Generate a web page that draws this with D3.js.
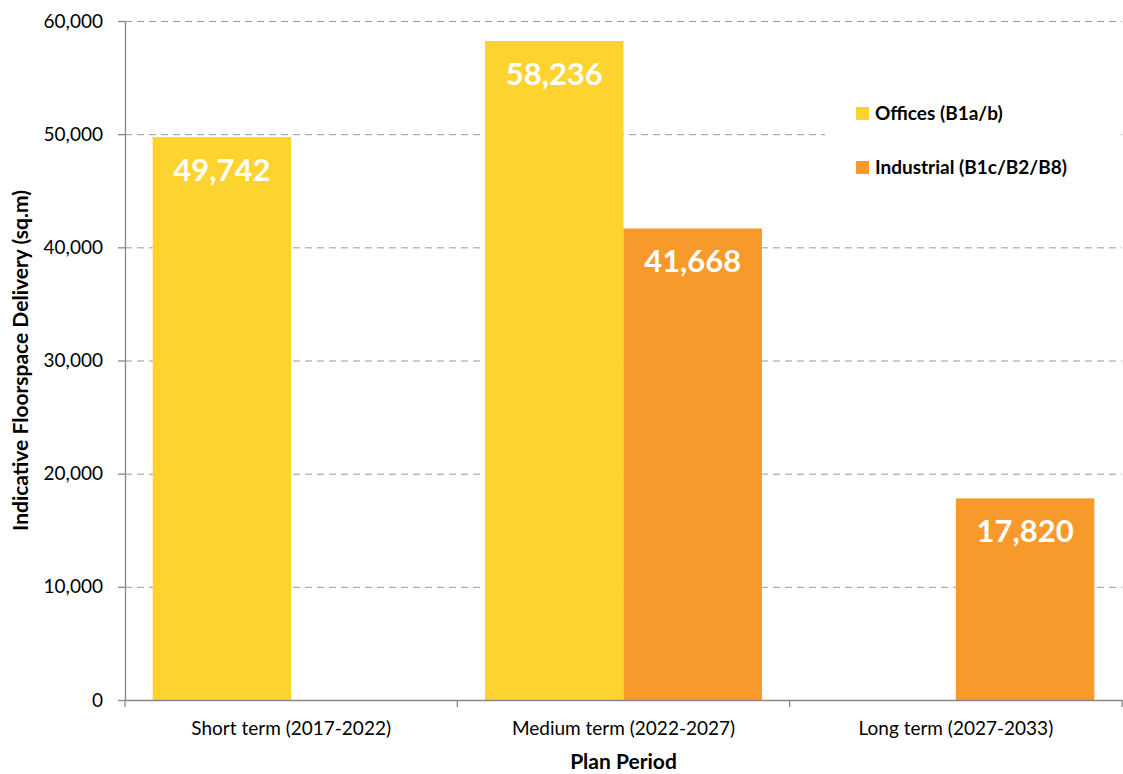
<!DOCTYPE html>
<html>
<head>
<meta charset="utf-8">
<script src="https://d3js.org/d3.v7.min.js"></script>
<style>
  body { margin: 0; background: #fff; }
  svg { font-family: Lato, "Open Sans", sans-serif; }
</style>
</head>
<body>
<div id="vis"></div>
<script>
const FRAME_WIDTH = 1123;
const FRAME_HEIGHT = 774;
const MARGINS = {left: 125, right: 1, top: 21, bottom: 74};

const VIS_WIDTH = FRAME_WIDTH - MARGINS.left - MARGINS.right;
const VIS_HEIGHT = FRAME_HEIGHT - MARGINS.top - MARGINS.bottom;

// data
const periods = ["Short term (2017-2022)", "Medium term (2022-2027)", "Long term (2027-2033)"];
const seriesNames = ["Offices (B1a/b)", "Industrial (B1c/B2/B8)"];
const offices = [49742, 58236, null];
const industrial = [null, 41668, 17820];
const yTicks = [0, 10000, 20000, 30000, 40000, 50000, 60000];
const colors = ["#FDD42F", "#F89A2B"];

const FRAME = d3.select("#vis")
  .append("svg")
    .attr("width", FRAME_WIDTH)
    .attr("height", FRAME_HEIGHT);

const X_SCALE = d3.scaleBand()
  .domain(periods)
  .range([0, VIS_WIDTH]);

const X_INNER = d3.scaleBand()
  .domain(seriesNames)
  .range([0, X_SCALE.bandwidth()])
  .paddingOuter(0.2)
  .paddingInner(0);

const Y_SCALE = d3.scaleLinear()
  .domain([0, 60000])
  .range([VIS_HEIGHT, 0]);

const g = FRAME.append("g")
  .attr("transform", "translate(" + MARGINS.left + "," + MARGINS.top + ")");

// gridlines
g.selectAll(".grid")
  .data(yTicks.filter(d => d > 0))
  .enter()
  .append("line")
    .attr("x1", 0)
    .attr("x2", VIS_WIDTH)
    .attr("y1", d => Y_SCALE(d) + 0.5)
    .attr("y2", d => Y_SCALE(d) + 0.5)
    .attr("stroke", "#999")
    .attr("stroke-width", 1)
    .attr("stroke-dasharray", "7,5");

// bars
const rows = [];
periods.forEach((p, i) => {
  [offices, industrial].forEach((s, j) => {
    if (s[i] != null) rows.push({period: p, series: seriesNames[j], value: s[i], color: colors[j]});
  });
});

g.selectAll(".bar")
  .data(rows)
  .enter()
  .append("rect")
    .attr("x", d => X_SCALE(d.period) + X_INNER(d.series))
    .attr("y", d => Y_SCALE(d.value))
    .attr("width", X_INNER.bandwidth())
    .attr("height", d => VIS_HEIGHT - Y_SCALE(d.value))
    .attr("fill", d => d.color);

// data labels
g.selectAll(".lbl")
  .data(rows)
  .enter()
  .append("text")
    .attr("x", d => X_SCALE(d.period) + X_INNER(d.series) + X_INNER.bandwidth() / 2)
    .attr("y", d => Y_SCALE(d.value) + 44)
    .attr("text-anchor", "middle")
    .attr("fill", "#fff")
    .style("font-size", "31px")
    .style("font-weight", "bold")
    .text(d => d3.format(",")(d.value));

// y axis
const yAxis = g.append("g")
  .call(d3.axisLeft(Y_SCALE).tickValues(yTicks).tickFormat(d3.format(",")).tickSize(7).tickSizeOuter(0))
  .attr("font-family", "Lato, 'Open Sans', sans-serif")
  .attr("font-size", "19px");
yAxis.select(".domain").attr("stroke", "#888").attr("stroke-width", 1.3);
yAxis.selectAll(".tick line").attr("stroke", "#888").attr("stroke-width", 1.3);
yAxis.selectAll(".tick text").attr("fill", "#000").attr("x", -22);

// x axis
const xAxis = g.append("g")
  .attr("transform", "translate(0," + VIS_HEIGHT + ")")
  .call(d3.axisBottom(X_SCALE).tickSize(0).tickSizeOuter(0))
  .attr("font-family", "Lato, 'Open Sans', sans-serif")
  .attr("font-size", "19px");
xAxis.select(".domain").attr("stroke", "#888").attr("stroke-width", 1.3);
xAxis.selectAll(".tick text").attr("fill", "#000").attr("y", 22).attr("dy", "0.71em");

// category boundary ticks
g.selectAll(".xtick")
  .data(periods.concat(["end"]))
  .enter()
  .append("line")
    .attr("x1", (d, i) => i < periods.length ? X_SCALE(d) : VIS_WIDTH)
    .attr("x2", (d, i) => i < periods.length ? X_SCALE(d) : VIS_WIDTH)
    .attr("y1", VIS_HEIGHT)
    .attr("y2", VIS_HEIGHT + 7)
    .attr("stroke", "#888")
    .attr("stroke-width", 1.3);

// legend
const legend = FRAME.append("g").attr("transform", "translate(825,95)");
legend.append("rect")
  .attr("width", 292)
  .attr("height", 100)
  .attr("fill", "#fff");

seriesNames.forEach((name, i) => {
  legend.append("rect")
    .attr("x", 31)
    .attr("y", 12 + i * 54)
    .attr("width", 13)
    .attr("height", 13)
    .attr("fill", colors[i]);
  legend.append("text")
    .attr("x", 50)
    .attr("y", 25 + i * 54)
    .style("font-size", "19px")
    .style("font-weight", "bold")
    .attr("fill", "#000")
    .text(name);
});

// axis titles
FRAME.append("text")
  .attr("transform", "translate(28," + (MARGINS.top + VIS_HEIGHT / 2) + ") rotate(-90)")
  .attr("text-anchor", "middle")
  .style("font-size", "21px")
  .style("font-weight", "bold")
  .text("Indicative Floorspace Delivery (sq.m)");

FRAME.append("text")
  .attr("x", MARGINS.left + VIS_WIDTH / 2)
  .attr("y", 769)
  .attr("text-anchor", "middle")
  .style("font-size", "21px")
  .style("font-weight", "bold")
  .text("Plan Period");
</script>
</body>
</html>
